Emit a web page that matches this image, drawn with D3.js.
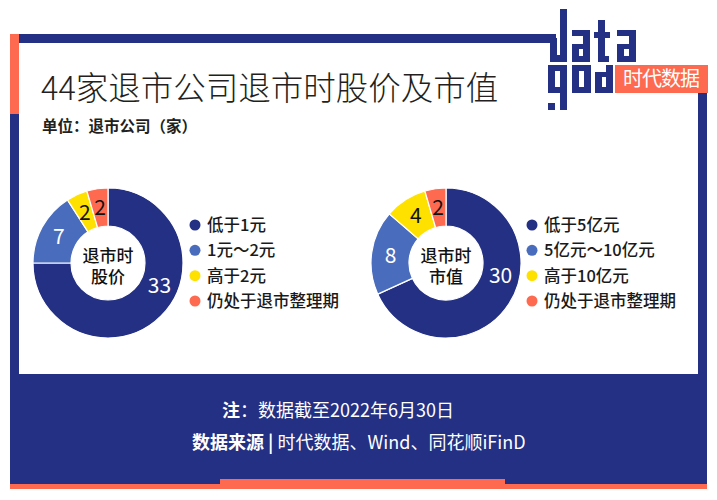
<!DOCTYPE html>
<html>
<head>
<meta charset="utf-8">
<script src="https://cdn.jsdelivr.net/npm/d3@7"></script>
<style>
  body { margin: 0; background: #fff; }
  svg { display: block; }
  text { font-family: "Noto Sans CJK SC", "Noto Sans", sans-serif; }
</style>
</head>
<body>
<div id="chart"></div>
<script>
// data
var priceCats = ["低于1元", "1元～2元", "高于2元", "仍处于退市整理期"];
var priceVals = [33, 7, 2, 2];
var capCats = ["低于5亿元", "5亿元～10亿元", "高于10亿元", "仍处于退市整理期"];
var capVals = [30, 8, 4, 2];
var sliceColors = ["#233083", "#4a6cbc", "#ffe100", "#fe6a4f"];
var labelColors = ["#fff", "#fff", "#111", "#111"];

var W = 717, H = 500;
var navy = "#233083", orange = "#fe6a4f";

var svg = d3.select("#chart").append("svg")
  .attr("width", W).attr("height", H);

// frame
svg.append("rect").attr("x", 10).attr("y", 34).attr("width", 9).attr("height", 455).attr("fill", navy);
svg.append("rect").attr("x", 10).attr("y", 34).attr("width", 9).attr("height", 80).attr("fill", orange);
svg.append("rect").attr("x", 19).attr("y", 34).attr("width", 537).attr("height", 9).attr("fill", navy);
svg.append("rect").attr("x", 698).attr("y", 93).attr("width", 9).attr("height", 392).attr("fill", navy);
svg.append("rect").attr("x", 10).attr("y", 374).attr("width", 697).attr("height", 111).attr("fill", navy);
svg.append("rect").attr("x", 10).attr("y", 484).attr("width", 697).attr("height", 5).attr("fill", orange);
svg.append("rect").attr("x", 220).attr("y", 479).attr("width", 285).attr("height", 10).attr("fill", orange);

// logo: blocky "data / god"
var logo = svg.append("g").attr("fill", navy);
var blocks = [
  // d
  [550, 38, 7, 24], [550, 55, 17, 7], [560, 9, 7, 53],
  // a
  [572, 30, 18, 6], [583, 30, 7, 32], [572, 44, 7, 18], [572, 44, 11, 5], [572, 56, 18, 6],
  // t
  [598, 20, 7, 42], [594, 32, 16, 6], [598, 56, 11, 6],
  // a
  [617, 30, 19, 6], [629, 30, 7, 32], [617, 44, 7, 18], [617, 44, 12, 5], [617, 56, 19, 6],
  // g
  [548, 65, 7, 28], [548, 65, 19, 6], [560, 65, 7, 45], [548, 87, 19, 6], [548, 103, 7, 7],
  // o
  [572, 65, 7, 28], [584, 65, 7, 28], [572, 65, 19, 6], [572, 87, 19, 6],
  // d
  [595, 72, 7, 21], [595, 72, 11, 5], [606, 65, 7, 28], [595, 87, 18, 6]
];
logo.selectAll("rect").data(blocks).enter().append("rect")
  .attr("x", function(d) { return d[0]; })
  .attr("y", function(d) { return d[1]; })
  .attr("width", function(d) { return d[2]; })
  .attr("height", function(d) { return d[3]; });
svg.append("rect").attr("x", 615).attr("y", 65).attr("width", 93).attr("height", 28).attr("fill", orange);
svg.append("text").attr("x", 661).attr("y", 86).attr("text-anchor", "middle")
  .attr("fill", "#fff").attr("font-size", 20).attr("letter-spacing", -1).text("时代数据");

// titles
svg.append("text").attr("x", 41).attr("y", 100)
  .attr("font-size", 32.5).attr("font-weight", 300).attr("fill", "#231f20").text("44家退市公司退市时股价及市值");
svg.append("text").attr("x", 42).attr("y", 132)
  .attr("font-size", 15.5).attr("font-weight", "bold").attr("fill", "#231f20").text("单位：退市公司（家）");

// donuts
var pie = d3.pie().sort(null).value(function(d) { return d; });
var rIn = 37, rOut = 75;
var arc = d3.arc().innerRadius(rIn).outerRadius(rOut);

function donut(cx, cy, vals, cats, center, legendX) {
  var g = svg.append("g").attr("transform", "translate(" + cx + "," + cy + ")");
  var arcs = pie(vals);
  g.selectAll("path").data(arcs).enter().append("path")
    .attr("d", arc)
    .attr("fill", function(d, i) { return sliceColors[i]; })
    .attr("stroke", "#fff").attr("stroke-width", 1.2);
  var maxV = d3.max(vals);
  g.selectAll("text.val").data(arcs).enter().append("text")
    .attr("class", "val")
    .attr("text-anchor", "middle")
    .attr("dy", "0.36em")
    .attr("font-size", 21)
    .attr("font-family", "'Open Sans', 'Noto Sans', sans-serif")
    .attr("fill", function(d, i) { return labelColors[i]; })
    .attr("transform", function(d) {
      // biggest slice label sits nearer its start, as in the original
      var f = d.value === maxV ? 0.42 : 0.5;
      var a = d.startAngle + (d.endAngle - d.startAngle) * f;
      var r = (rIn + rOut) / 2;
      return "translate(" + (Math.sin(a) * r) + "," + (-Math.cos(a) * r) + ")";
    })
    .text(function(d) { return d.value; });
  var ct = g.append("text")
    .attr("text-anchor", "middle")
    .attr("font-size", 17).attr("font-weight", 500).attr("fill", "#111");
  ct.selectAll("tspan").data(center).enter().append("tspan")
    .attr("x", 0)
    .attr("y", function(d, i) { return -1.5 + i * 21; })
    .text(function(d) { return d; });

  var y = d3.scalePoint().domain(cats).range([225, 301]);
  var lg = svg.append("g");
  lg.selectAll("circle").data(cats).enter().append("circle")
    .attr("cx", legendX).attr("cy", function(d) { return y(d); })
    .attr("r", 5.5)
    .attr("fill", function(d, i) { return sliceColors[i]; });
  lg.selectAll("text").data(cats).enter().append("text")
    .attr("x", legendX + 12).attr("y", function(d) { return y(d); })
    .attr("dy", "0.36em")
    .attr("font-size", 16.5).attr("font-weight", 500).attr("fill", "#1a1a1a")
    .text(function(d) { return d; });
}

donut(108, 263, priceVals, priceCats, ["退市时", "股价"], 195);
donut(446, 263, capVals, capCats, ["退市时", "市值"], 532);

// footer
var f1 = svg.append("text").attr("x", 222).attr("y", 417).attr("font-size", 18).attr("fill", "#fff");
f1.append("tspan").attr("font-weight", "bold").text("注");
f1.append("tspan").text("：数据截至2022年6月30日");
var f2 = svg.append("text").attr("x", 192).attr("y", 449).attr("font-size", 18).attr("fill", "#fff");
f2.append("tspan").attr("font-weight", "bold").text("数据来源");
f2.append("tspan").attr("font-weight", "bold").text(" | ");
f2.append("tspan").text("时代数据、Wind、同花顺iFinD");
</script>
</body>
</html>
